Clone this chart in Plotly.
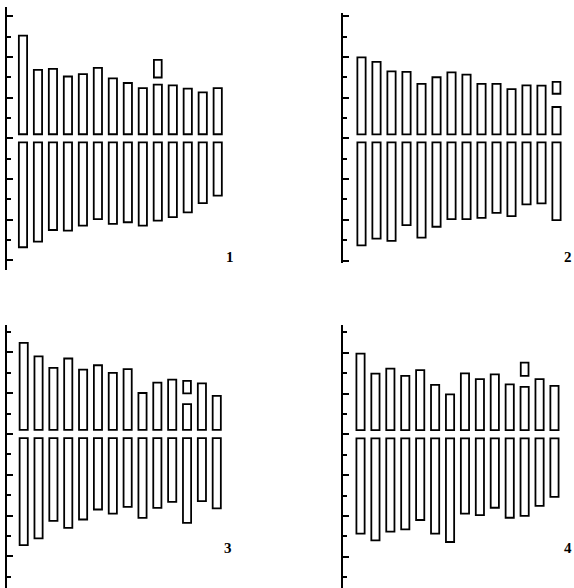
import plotly.graph_objects as go

W, H = 574, 588

# category positions (14 bars per panel)
categories = list(range(1, 15))
panel_labels = ["1", "2", "3", "4"]

# values in axis tick units; upper = top of bar above zero, lower = depth below zero
upper_1 = [5.05, 3.37, 3.41, 3.04, 3.16, 3.46, 2.95, 2.72, 2.47, 2.64, 2.60, 2.44, 2.26, 2.47]
lower_1 = [5.36, 5.08, 4.51, 4.54, 4.30, 3.98, 4.21, 4.13, 4.30, 4.05, 3.88, 3.64, 3.19, 2.82]
box_1 = [10, 2.99, 3.86]   # [category, low, high]

upper_2 = [3.98, 3.75, 3.29, 3.26, 2.67, 3.00, 3.24, 3.13, 2.67, 2.67, 2.42, 2.60, 2.59, 1.54]
lower_2 = [5.25, 4.92, 5.03, 4.26, 4.87, 4.34, 3.97, 3.97, 3.90, 3.66, 3.82, 3.24, 3.19, 4.01]
box_2 = [14, 2.19, 2.77]

upper_3 = [4.47, 3.81, 3.24, 3.70, 3.16, 3.37, 3.00, 3.18, 2.01, 2.52, 2.67, 1.46, 2.48, 1.87]
lower_3 = [5.45, 5.12, 4.26, 4.60, 4.19, 3.70, 3.90, 3.57, 4.11, 3.62, 3.33, 4.36, 3.29, 3.65]
box_3 = [12, 1.99, 2.60]

upper_4 = [3.95, 2.97, 3.22, 2.86, 3.15, 2.42, 1.96, 2.99, 2.70, 2.94, 2.45, 2.32, 2.70, 2.37]
lower_4 = [4.87, 5.20, 4.77, 4.66, 4.20, 4.87, 5.28, 3.89, 3.96, 3.60, 4.09, 4.00, 3.51, 3.07]
box_4 = [12, 2.86, 3.51]

GAP = 0.2  # gap between bars and zero line

# panel geometry in pixels: axis x, axis top, axis bottom, zero y, px per unit, px of x=0, px per category
geom = [
    dict(ax=7.0, top=7.0, bot=270.0, zero=138.3, sc=20.33, x0=8.0, sp=14.98, lab=(230, 257)),
    dict(ax=342.7, top=13.3, bot=262.7, zero=138.35, sc=20.37, x0=346.5, sp=15.0, lab=(568, 257)),
    dict(ax=6.7, top=325.0, bot=588.0, zero=434.0, sc=20.4, x0=8.85, sp=14.85, lab=(228, 548)),
    dict(ax=342.7, top=325.0, bot=588.0, zero=434.3, sc=20.4, x0=345.6, sp=14.92, lab=(568, 548)),
]

panels = [(upper_1, lower_1, box_1), (upper_2, lower_2, box_2),
          (upper_3, lower_3, box_3), (upper_4, lower_4, box_4)]

fig = go.Figure()
bar_style = dict(color="white", line=dict(color="black", width=1.8))
layout = {}
annotations = []
for k, ((up, lo, box), g) in enumerate(zip(panels, geom)):
    n = "" if k == 0 else str(k + 1)
    xa, ya = "x" + n, "y" + n
    fig.add_trace(go.Bar(x=categories, y=[u - GAP for u in up], base=GAP, width=0.55,
                         marker=bar_style, xaxis=xa, yaxis=ya, showlegend=False))
    fig.add_trace(go.Bar(x=categories, y=[-(d - GAP) for d in lo], base=-GAP, width=0.55,
                         marker=bar_style, xaxis=xa, yaxis=ya, showlegend=False))
    fig.add_trace(go.Bar(x=[box[0]], y=[box[2] - box[1]], base=[box[1]], width=0.52,
                         marker=bar_style, xaxis=xa, yaxis=ya, showlegend=False))
    right_px = g["ax"] + 225
    layout["xaxis" + n] = dict(
        domain=[g["ax"] / W, right_px / W],
        range=[(g["ax"] - g["x0"]) / g["sp"], (right_px - g["x0"]) / g["sp"]],
        visible=False, anchor=ya)
    layout["yaxis" + n] = dict(
        domain=[1 - g["bot"] / H, 1 - g["top"] / H],
        range=[-(g["bot"] - g["zero"]) / g["sc"], (g["zero"] - g["top"]) / g["sc"]],
        anchor=xa, showline=True, linecolor="black", linewidth=2,
        ticks="inside", ticklen=6, tickwidth=1.6, tickcolor="black",
        tick0=0, dtick=2, showticklabels=False, showgrid=False, zeroline=False,
        minor=dict(ticks="inside", ticklen=4, tickwidth=1.6, tickcolor="black",
                   tick0=0, dtick=1, showgrid=False))
    annotations.append(dict(text="<b>" + panel_labels[k] + "</b>", xref="paper", yref="paper",
                            x=g["lab"][0] / W, y=1 - g["lab"][1] / H, showarrow=False,
                            xanchor="center", yanchor="middle",
                            font=dict(family="Liberation Serif", size=15, color="black")))

fig.update_layout(width=W, height=H, autosize=False,
                  margin=dict(l=0, r=0, t=0, b=0),
                  paper_bgcolor="white", plot_bgcolor="white",
                  barmode="overlay", annotations=annotations, **layout)

fig.write_html("out.html", config={"displayModeBar": False},
               post_script="document.body.style.margin='0';document.body.style.padding='0';"
                           "document.body.style.overflow='hidden';")
